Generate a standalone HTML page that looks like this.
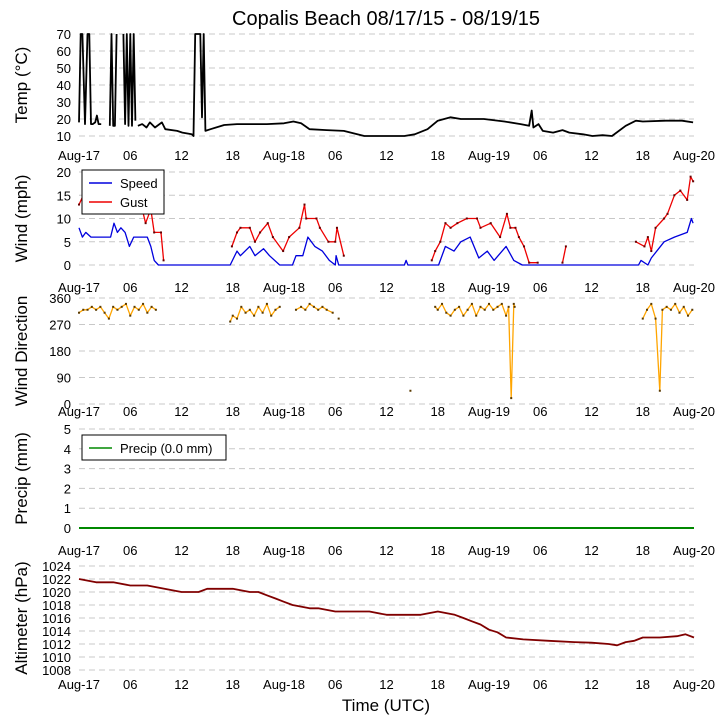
<!DOCTYPE html>
<html><head><meta charset="utf-8">
<style>
body{margin:0;background:#fff;}
svg{display:block;font-family:"Liberation Sans","DejaVu Sans",sans-serif;}
</style></head>
<body>
<svg id="c" width="726" height="725" viewBox="0 0 726 725"></svg>
<script>
// ---- data (hours since Aug-17 00 UTC) ----
const xTicks=["Aug-17","06","12","18","Aug-18","06","12","18","Aug-19","06","12","18","Aug-20"];
const tempT=[0,0.2,0.4,0.7,1.0,1.2,1.4,1.6,1.9,2.1,2.3,2.6,null,3.6,3.8,4.0,4.2,4.4,null,5.2,5.4,5.6,5.8,6.0,6.2,6.4,6.6,null,6.9,7.4,7.9,8.3,8.9,9.7,10.1,11.5,12.1,13.2,13.4,13.6,14.2,14.4,14.6,14.8,15.4,17,18.5,20,22,24,25.1,26,27,29,31,33.4,35,36.9,38.1,39.3,40.8,42,43.5,44.7,47.4,49.8,51.7,52.7,53,53.2,53.8,54.3,55.5,56.6,57.4,59,60.1,61.3,62.4,64,65.2,66,68.7,70.6,71.9];
const tempV=[18,70,70,17,70,70,17,17,18,22,17,17,null,16,70,16,16,70,null,70,17,70,16,70,16,70,19,null,16,17,15,18,15,18,14,13,12,11,10,70,70,21,70,13,14,16.5,17,17,17,17.5,18.5,17.5,14,13.5,13,10,10,10,9,11,14,19,21,20,20,18.5,17,16,25,15,17,13,12,13.5,12,11,9.5,10.5,10,16,19,18.5,19,19,18];
const speedT=[0,0.4,0.8,1.4,2,3,3.7,4.1,4.5,4.9,5.4,5.9,6.4,7,8,8.4,8.8,9.3,12,15,17.7,18.5,18.9,20,20.6,21.6,22.3,23.5,25,25.4,26.2,26.8,27.6,28.5,29.3,30,30.1,30.4,33,36,38.1,38.3,38.5,41,42.1,42.9,43.9,44.7,45.8,46.8,47.8,48.6,50,50.9,51.9,55,60,65.5,65.8,66.6,67,68.5,69.7,71.2,71.7,71.9];
const speedV=[8,6,7,6,6,6,6,9,7,8,7,4,6,6,6,4,1,0,0,0,0,3,2,4,2,3.5,2,0,0,2,2,6,4,3,1,0,2,0,0,0,0,1,0,0,0,4,3,5,6,1.5,3,1,4,1,0,0,0,0,1,0,1.5,5,6,7,10,9];
const gustT=[0,0.5,1,2,3,4,5,6,7,7.4,7.8,8.4,8.8,9.6,9.9,null,17.9,18.5,18.9,20,20.6,21.2,22.1,22.7,23.9,24.6,25.8,26.4,26.6,27.8,28.2,29.2,30,30.2,31,null,41.3,41.7,42.3,42.9,43.5,44.3,45.4,46.6,47,48.2,49.3,50.1,50.5,51.1,51.5,52.1,52.7,53.7,null,56.6,57,null,65.2,66.2,66.6,67,67.5,68.5,68.9,69.7,70.4,71.2,71.6,71.9];
const gustV=[13,15,15,14,15,15,14,14,13,12,9,12,7,7,1,null,4,7,8,8,5,7,9,6,3,6,8,13,10,10,8,5,5,8,2,null,1,3,5,9,8,9,10,10,8,9,6,11,8,8,6,4,0.5,0.5,null,0.5,4,null,5,4,6,3,8,10,11,15,16,14,19,18];
const dirT=[0,0.5,1,1.5,2,2.5,3,3.5,4,4.5,5,5.5,6,6.5,7,7.5,8,8.5,9,null,17.7,18,18.5,19,19.5,20,20.5,21,21.5,22,22.5,23,23.5,null,25.4,26,26.5,27,27.5,28,28.5,29,29.7,null,30.4,null,38.8,null,41.7,42,42.5,43,43.5,44,44.5,45,45.5,46,46.5,47,47.5,48,48.5,49,49.5,50,50.3,50.6,50.9,51,null,66,66.5,67,67.5,68,68.3,68.8,69.3,69.8,70.3,70.8,71.3,71.8];
const dirV=[310,320,320,330,320,330,310,290,330,320,330,340,300,330,320,340,310,330,320,null,280,300,290,330,310,320,300,330,310,340,300,320,330,null,320,330,320,340,330,320,330,320,310,null,290,null,45,null,330,320,340,310,300,320,330,300,320,340,300,330,320,340,320,330,340,300,330,20,340,330,null,290,320,340,290,45,320,330,320,340,310,330,300,320];
const precipT=[0,72];
const precipV=[0,0];
const altT=[0,2,4,6,8,10,12,14,15,18,20,21,22,23,24,25,27,28,30,34,36,38,40,42,44,45,46,47,48,49,50,52,55,58,60,62,63,64,65,66,68,70,71,72];
const altV=[1022,1021.5,1021.5,1021,1021,1020.5,1020,1020,1020.5,1020.5,1020,1020,1019.5,1019,1018.5,1018,1017.5,1017.5,1017,1017,1016.5,1016.5,1016.5,1017,1016.5,1016,1015.5,1015,1014.2,1013.8,1013,1012.7,1012.5,1012.3,1012.2,1012,1011.8,1012.3,1012.5,1013,1013,1013.2,1013.5,1013];
const panels=[
 {name:"temp",label:"Temp (\u00b0C)",top:34,bot:136,min:10,max:70,ticks:[10,20,30,40,50,60,70],lab:155},
 {name:"wind",label:"Wind (mph)",top:172,bot:265,min:0,max:20,ticks:[0,5,10,15,20],lab:287},
 {name:"dir",label:"Wind Direction",top:298,bot:404,min:0,max:360,ticks:[0,90,180,270,360],lab:411},
 {name:"precip",label:"Precip (mm)",top:429,bot:528,min:0,max:5,ticks:[0,1,2,3,4,5],lab:550},
 {name:"alt",label:"Altimeter (hPa)",top:566,bot:670,min:1008,max:1024,ticks:[1008,1010,1012,1014,1016,1018,1020,1022,1024],lab:684}
];
const X0=79,X1=694;
const svg=document.getElementById('c');
const NS='http://www.w3.org/2000/svg';
function mk(t,a,p){const e=document.createElementNS(NS,t);for(const k in a)e.setAttribute(k,a[k]);(p||svg).appendChild(e);return e;}
function xs(h){return X0+(X1-X0)*h/72;}
function ys(p,v){return p.bot-(p.bot-p.top)*(v-p.min)/(p.max-p.min);}
const title=mk('text',{x:386,y:25,'text-anchor':'middle','font-size':20});
title.textContent='Copalis Beach 08/17/15 - 08/19/15';


panels.forEach(p=>{
  const g=mk('g',{});
  
  
  p.ticks.forEach(t=>{
    const y=ys(p,t);
    const l=mk('line',{x1:X0,x2:X1,y1:y,y2:y,stroke:'#c8c8c8','stroke-dasharray':'6,4','stroke-width':1},g);
    
    
    const tx=mk('text',{x:71,y:y+5,'text-anchor':'end','font-size':13},g);
    tx.textContent=t;
    
    
  });
  xTicks.forEach((t,i)=>{
    const tx=mk('text',{x:xs(i*6),y:p.lab+5,'text-anchor':'middle','font-size':13},g);
    tx.textContent=t;
    
    
  });
  const cy=(p.top+p.bot)/2;
  const yl=mk('text',{x:0,y:0,'text-anchor':'middle','font-size':17,transform:`translate(27,${cy}) rotate(-90)`},g);
  yl.textContent=p.label;
  
  
});
function series(p,T,V,color,name,w,markers){
  const g=mk('g',{});
  
  
  let d='',pen=false,pts=[];
  for(let i=0;i<T.length;i++){
    if(T[i]===null||V[i]===null){pen=false;continue;}
    const x=xs(T[i]),y=ys(p,Math.min(Math.max(V[i],p.min),p.max));
    d+=(pen?'L':'M')+x.toFixed(1)+' '+y.toFixed(1);pen=true;pts.push([x,y]);
  }
  mk('path',{d:d,fill:'none',stroke:color,'stroke-width':w,'stroke-linejoin':'round'},g);
  if(markers) pts.forEach(q=>mk('rect',{x:q[0]-1,y:q[1]-1,width:2,height:2,fill:markers},g));
  return g;
}
series(panels[0],tempT,tempV,'#000','temp-line',1.8);
series(panels[1],gustT,gustV,'#e00','gust-line',1.3,'#600');
series(panels[1],speedT,speedV,'#00d','speed-line',1.3);
series(panels[2],dirT,dirV,'#ffa500','direction-line',1.3,'#5a3a00');
series(panels[3],precipT,precipV,'#080','precip-line',2);
series(panels[4],altT,altV,'#800000','altimeter-line',1.8);
function legend(x,y,w,items,name){
  const g=mk('g',{});
  
  
  mk('rect',{x:x,y:y,width:w,height:items.length*19+6,fill:'#fff',stroke:'#000','stroke-width':1},g);
  items.forEach((it,i)=>{
    const yy=y+13+i*19;
    mk('line',{x1:x+7,x2:x+30,y1:yy,y2:yy,stroke:it[1],'stroke-width':1.5},g);
    const t=mk('text',{x:x+38,y:yy+5,'font-size':13},g);
    t.textContent=it[0];
    
    
  });
}
legend(82,170,82,[['Speed','#00d'],['Gust','#e00']],'wind-legend');
legend(82,435,144,[['Precip (0.0 mm)','#080']],'precip-legend');
const xl=mk('text',{x:386,y:711,'text-anchor':'middle','font-size':17});
xl.textContent='Time (UTC)';


</script>
</body></html>
